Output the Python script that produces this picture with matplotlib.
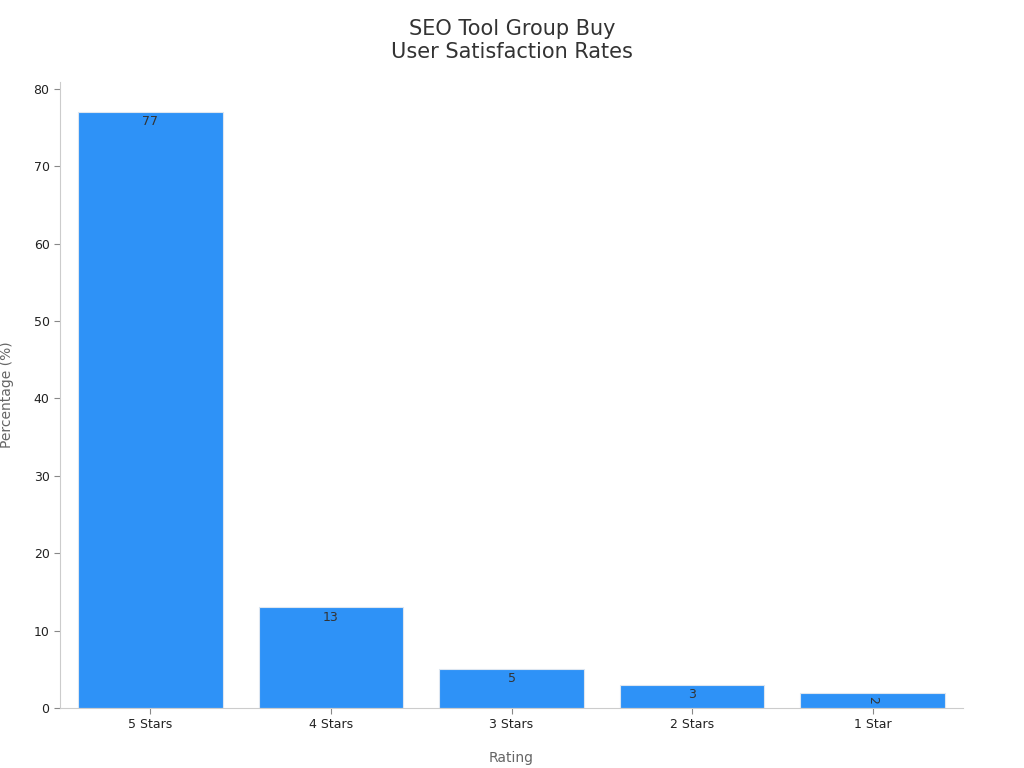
import matplotlib
matplotlib.use("Agg")
import matplotlib.pyplot as plt

categories = ["5 Stars", "4 Stars", "3 Stars", "2 Stars", "1 Star"]
values = [77, 13, 5, 3, 2]

fig = plt.figure(figsize=(10.24, 7.68), dpi=100)
ax = fig.add_axes([60/1024, 1-708/768, (963-60)/1024, (708-82)/768])
x = list(range(len(categories)))
ax.bar(x, values, width=0.8, color="#2e92f7", edgecolor="#dde6f0", linewidth=0.8)
for i, v in enumerate(values):
    ax.text(i, v - 0.4, str(v), ha="center", va="top", fontsize=9, color="#333333",
            rotation=270 if v == 2 else 0)
ax.set_xlim(-0.5, 4.5)
ax.set_ylim(0, 80.9)
ax.set_xticks(x)
ax.set_xticklabels(categories)
ax.set_yticks(range(0, 81, 10))
ax.tick_params(labelsize=9, colors="#222222", length=4)
ax.tick_params(axis="both", color="#888888")
for s in ["top", "right"]:
    ax.spines[s].set_visible(False)
for s in ["left", "bottom"]:
    ax.spines[s].set_color("#cccccc")
ax.set_xlabel("Rating", fontsize=10, color="#666666", labelpad=14)
ax.set_ylabel("Percentage (%)", fontsize=10, color="#666666", labelpad=14)
fig.suptitle("SEO Tool Group Buy\nUser Satisfaction Rates", fontsize=15, color="#333333", y=0.975)
fig.savefig("out.png", dpi=100)
